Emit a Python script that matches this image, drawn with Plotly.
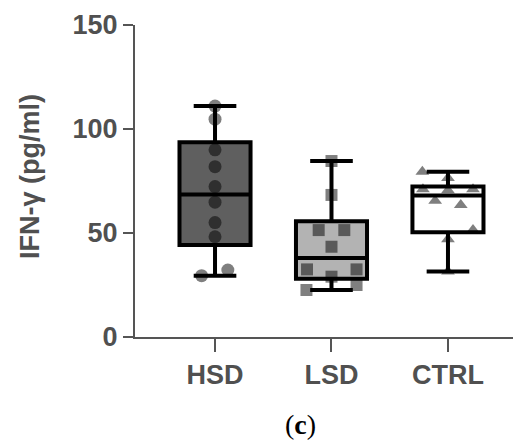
import numpy as np
import plotly.graph_objects as go

# ---- data ----
categories = ["HSD", "LSD", "CTRL"]
hsd_values = [111.0, 104.7, 90.0, 81.9, 72.3, 64.8, 55.0, 48.2, 29.5, 32.2]
lsd_values = [84.6, 68.3, 51.4, 51.4, 43.4, 32.5, 32.5, 29.0, 22.6, 25.0]
ctrl_values = [79.5, 76.5, 71.0, 70.5, 71.0, 65.5, 63.5, 51.5, 47.0, 31.5]
y_ticks = [0, 50, 100, 150]
y_label = "IFN-γ (pg/ml)"
panel_label = "(<b>c</b>)"

# ---- layout of the scatter (beeswarm offsets, category units) ----
hsd_dx = [0, 0, 0, 0, 0, 0, 0, 0, -0.115, 0.11]
lsd_dx = [0, 0, -0.11, 0.11, 0, -0.21, 0.215, 0, -0.215, 0.215]
ctrl_dx = [-0.22, 0, -0.215, 0, 0.215, -0.11, 0.11, 0.215, 0, 0]

groups = [
    (hsd_values, hsd_dx, "#5f5f5f", "circle", 13),
    (lsd_values, lsd_dx, "#b3b3b3", "square", 12),
    (ctrl_values, ctrl_dx, "#ffffff", "triangle-up", 12),
]

BOX_W = 0.61
WHISK = 0.6
LINE_W = 4
AXIS_C = "#555555"
TEXT_C = "#505050"
SANS = "Liberation Sans, Arial, sans-serif"

fig = go.Figure()


def stats(v):
    a = np.asarray(v, dtype=float)
    q1, med, q3 = np.percentile(a, [25, 50, 75], method="weibull")
    return float(q1), float(med), float(q3), float(a.min()), float(a.max())


# layer 1: box fills
for i, (vals, dx, fill, sym, sz) in enumerate(groups):
    q1, med, q3, lo, hi = stats(vals)
    fig.add_trace(go.Box(
        x=[i], q1=[q1], median=[med], q3=[q3], lowerfence=[lo], upperfence=[hi],
        width=BOX_W, whiskerwidth=WHISK, fillcolor=fill,
        line=dict(width=0, color="rgba(0,0,0,0)"), boxpoints=False,
        showlegend=False, hoverinfo="skip",
    ))

# layer 2: points
for i, (vals, dx, fill, sym, sz) in enumerate(groups):
    fig.add_trace(go.Scatter(
        x=[i + d for d in dx], y=vals, mode="markers",
        marker=dict(symbol=sym, size=sz, color="rgba(0,0,0,0.5)", line=dict(width=0)),
        showlegend=False, hoverinfo="skip",
    ))

# layer 3: box outlines, medians and whiskers on top
for i, (vals, dx, fill, sym, sz) in enumerate(groups):
    q1, med, q3, lo, hi = stats(vals)
    fig.add_trace(go.Box(
        x=[i], q1=[q1], median=[med], q3=[q3], lowerfence=[lo], upperfence=[hi],
        width=BOX_W, whiskerwidth=WHISK, fillcolor="rgba(0,0,0,0)",
        line=dict(width=LINE_W, color="#000000"), boxpoints=False,
        showlegend=False, hoverinfo="skip",
    ))

# the page body adds an 8px offset, so the figure is 8px smaller on each axis
fig.update_layout(
    width=513, height=435,
    margin=dict(l=127, r=0, t=17, b=106),
    paper_bgcolor="white", plot_bgcolor="white",
    boxmode="overlay",
    font=dict(family=SANS, color=TEXT_C),
    xaxis=dict(
        range=[-0.687, 2.627], tickmode="array", tickvals=list(range(len(categories))),
        ticktext=categories, showgrid=False, zeroline=False,
        showline=True, linecolor=AXIS_C, linewidth=2,
        ticks="outside", ticklen=13, tickwidth=2, tickcolor=AXIS_C,
        tickfont=dict(size=27, family=SANS, color=TEXT_C, weight="bold"),
    ),
    yaxis=dict(
        range=[0, 150], tickmode="array", tickvals=y_ticks,
        showgrid=False, zeroline=False,
        showline=True, linecolor=AXIS_C, linewidth=2,
        ticks="outside", ticklen=10, tickwidth=2, tickcolor=AXIS_C,
        tickfont=dict(size=27, family=SANS, color=TEXT_C, weight="bold"),
    ),
    annotations=[
        dict(text=y_label, xref="paper", yref="paper", x=-0.272, y=0.513,
             textangle=-90, showarrow=False, xanchor="center", yanchor="middle",
             font=dict(size=27, family=SANS, color=TEXT_C, weight="bold")),
        dict(text=panel_label, xref="paper", yref="paper", x=0.4275, y=-0.282,
             showarrow=False, xanchor="center", yanchor="middle",
             font=dict(size=28, family="Liberation Serif, Times New Roman, serif", color="#000000")),
    ],
)

fig.write_html("out.html")
